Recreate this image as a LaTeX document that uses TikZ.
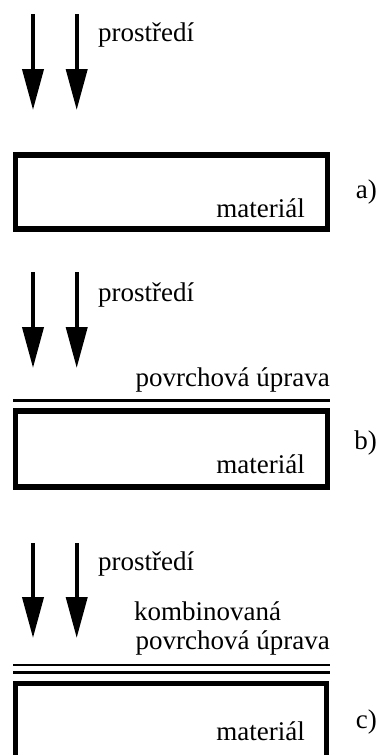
\documentclass[tikz,border=0pt]{standalone}
\usepackage{fontspec}
\setmainfont{Liberation Serif}
\usetikzlibrary{arrows.meta}
\tikzset{
  lbl/.style={inner sep=0pt, font=\fontsize{27}{28}\selectfont},
  flow/.style={line width=4pt, -{Triangle[width=21pt,length=41pt]}},
  body/.style={line width=5.5pt, line join=miter},
  coat/.style={line width=2.7pt}
}
\begin{document}
\begin{tikzpicture}[x=1pt,y=-1pt]
\useasboundingbox (0,0) rectangle (379,755);

% ---- a) bare material ----
\coordinate (a1s) at (33,14);   \coordinate (a1e) at (33,110);
\coordinate (a2s) at (76.7,14); \coordinate (a2e) at (76.7,110);
\draw[flow] (a1s) -- (a1e);
\draw[flow] (a2s) -- (a2e);
\node[lbl, anchor=base west] (envA) at (98,41) {prostředí};
\draw[body] (15.5,155) rectangle (327.5,229);
\node[lbl, anchor=base east] (matA) at (305,217) {materiál};
\node[lbl, anchor=base east] (labA) at (377,198) {a)};

% ---- b) single surface treatment ----
\coordinate (b1s) at (33,272);   \coordinate (b1e) at (33,368);
\coordinate (b2s) at (76.7,272); \coordinate (b2e) at (76.7,368);
\draw[flow] (b1s) -- (b1e);
\draw[flow] (b2s) -- (b2e);
\node[lbl, anchor=base west] (envB) at (98,301) {prostředí};
\node[lbl, anchor=base east] (coatB) at (330,386) {povrchová úprava};
\draw[coat] (13,400.5) -- (330,400.5);
\draw[body] (15.5,411) rectangle (327.5,487);
\node[lbl, anchor=base east] (matB) at (305,473) {materiál};
\node[lbl, anchor=base east] (labB) at (377,449) {b)};

% ---- c) combined surface treatment ----
\coordinate (c1s) at (33,543);   \coordinate (c1e) at (33,638);
\coordinate (c2s) at (76.7,543); \coordinate (c2e) at (76.7,638);
\draw[flow] (c1s) -- (c1e);
\draw[flow] (c2s) -- (c2e);
\node[lbl, anchor=base west] (envC) at (98,570) {prostředí};
\node[lbl, anchor=base west] (coatC1) at (134,620) {kombinovaná};
\node[lbl, anchor=base east] (coatC2) at (330,649) {povrchová úprava};
\draw[coat] (13,665) -- (330,665);
\draw[coat] (13,672.5) -- (330,672.5);
\draw[body] (15.5,770) -- (15.5,683.3) -- (326.5,683.3) -- (326.5,770);
\node[lbl, anchor=base east] (matC) at (305,740) {materiál};
\node[lbl, anchor=base east] (labC) at (377,728) {c)};
\end{tikzpicture}
\end{document}
